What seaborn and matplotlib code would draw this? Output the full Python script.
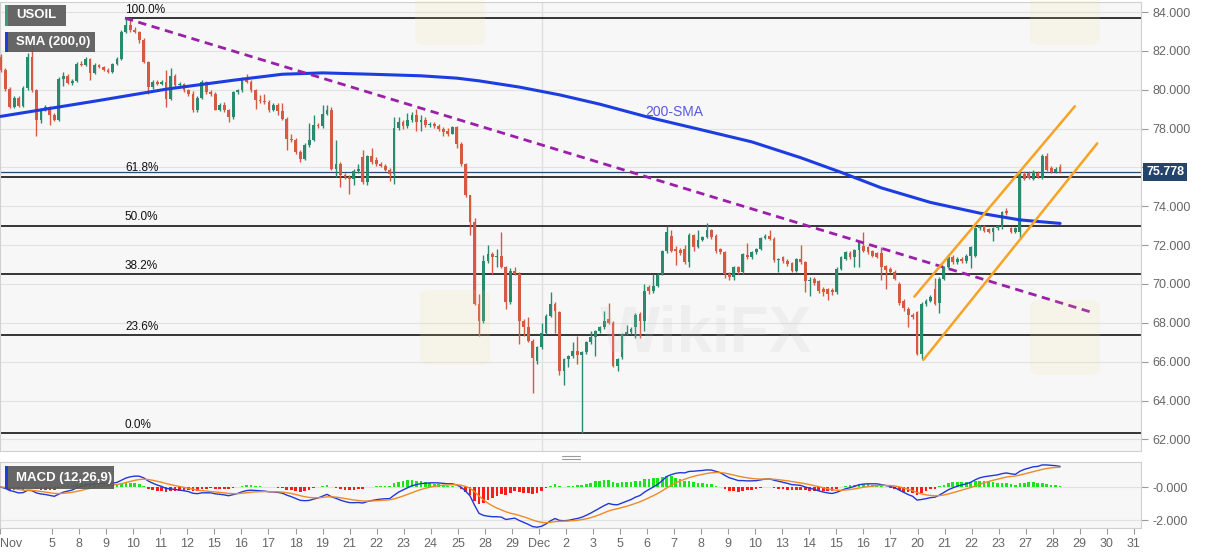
import numpy as np
import pandas as pd
import matplotlib
matplotlib.use("Agg")
import matplotlib.pyplot as plt
import matplotlib.transforms as mtransforms
from matplotlib.patches import Rectangle, FancyBboxPatch
from matplotlib.lines import Line2D
import seaborn as sns

# USOIL 4H candles, 1 Nov - 28 Dec
opens = [
    81.70, 81.00, 80.06, 79.12, 79.60, 79.15, 80.11, 81.70, 79.98, 78.43,
    78.98, 79.10, 78.70, 78.45, 80.58, 80.70, 80.35, 80.45, 81.35, 81.30,
    81.60, 80.84, 81.27, 81.18, 81.00, 80.92, 81.35, 81.61, 82.99, 83.33,
    83.07, 82.95, 82.56, 81.44, 80.15, 80.41, 80.32, 80.41, 79.55, 80.70,
    80.23, 80.30, 79.98, 79.80, 78.94, 79.60, 80.41, 79.90, 79.80, 78.98,
    79.20, 78.94, 78.60, 79.89, 79.98, 80.58, 80.41, 79.98, 79.46, 79.40,
    79.35, 78.94, 79.20, 78.90, 78.50, 77.48, 77.40, 76.80, 76.45, 77.14,
    77.40, 78.17, 78.12, 78.77, 78.94, 75.93, 76.19, 75.59, 75.50, 75.42,
    75.81, 76.54, 75.25, 76.57, 76.40, 76.20, 76.10, 75.88, 75.64, 78.05,
    78.34, 78.12, 78.43, 78.69, 78.34, 78.45, 78.17, 78.25, 78.12, 78.00,
    77.90, 77.74, 78.08, 77.22, 76.19, 74.56, 73.18, 68.97, 68.10, 71.20,
    71.55, 71.38, 71.45, 70.86, 69.05, 70.69, 70.52, 68.10, 67.76, 67.08,
    66.04, 66.74, 67.50, 68.37, 68.97, 68.54, 65.53, 66.13, 66.30, 66.56,
    66.35, 66.48, 66.99, 67.25, 67.59, 67.76, 68.20, 68.00, 65.79, 66.22,
    67.45, 67.52, 67.76, 68.45, 68.10, 69.83, 69.66, 69.91, 70.52, 71.70,
    72.49, 71.80, 71.75, 71.80, 71.11, 72.50, 71.90, 72.27, 72.40, 72.78,
    72.49, 71.80, 71.63, 70.51, 70.37, 70.86, 70.60, 71.51, 71.37, 71.63,
    71.80, 72.37, 72.49, 72.32, 71.23, 71.37, 71.20, 71.06, 70.68, 71.28,
    71.11, 70.17, 70.25, 70.13, 69.74, 69.74, 69.70, 69.57, 70.77, 71.30,
    71.58, 71.37, 71.75, 71.97, 71.89, 71.68, 71.58, 71.58, 70.94, 70.77,
    70.60, 70.00, 69.10, 68.70, 68.40, 68.54, 66.40, 68.97, 69.14, 69.74,
    69.00, 70.26, 70.86, 71.37, 71.12, 71.30, 71.17, 71.45, 71.46, 72.89,
    72.96, 72.85, 72.67, 72.89, 72.92, 73.78, 72.89, 72.67, 72.67, 75.67,
    75.70, 75.42, 75.70, 75.47, 76.57, 75.98, 75.76, 76.00,
]
highs = [
    81.85, 81.10, 80.15, 79.70, 79.70, 80.20, 81.90, 82.30, 80.05, 79.05,
    79.20, 79.15, 78.80, 80.65, 80.90, 80.80, 80.55, 81.45, 81.50, 81.70,
    81.65, 81.40, 81.35, 81.25, 81.10, 81.40, 81.70, 83.10, 83.65, 83.69,
    83.25, 83.05, 82.65, 81.50, 80.50, 80.50, 80.50, 81.00, 81.10, 80.80,
    80.40, 80.35, 80.05, 79.95, 79.70, 80.50, 80.45, 80.00, 79.90, 79.30,
    79.35, 79.00, 79.95, 80.05, 80.65, 80.80, 80.50, 80.05, 79.75, 79.80,
    79.45, 79.30, 79.30, 79.30, 78.60, 77.70, 77.50, 76.90, 77.25, 78.30,
    78.70, 78.30, 79.20, 79.20, 79.10, 77.40, 76.30, 75.70, 75.60, 75.90,
    76.20, 76.88, 76.65, 77.00, 76.55, 76.30, 76.20, 75.95, 78.60, 78.60,
    78.45, 78.80, 78.85, 79.00, 78.70, 78.60, 78.35, 78.35, 78.25, 78.10,
    78.05, 78.15, 78.12, 77.30, 76.25, 74.60, 73.40, 69.50, 71.50, 72.00,
    71.65, 71.80, 72.70, 70.95, 70.80, 70.90, 70.60, 68.20, 68.30, 67.15,
    66.80, 68.00, 68.45, 69.60, 69.05, 68.60, 66.20, 66.35, 67.00, 67.30,
    66.55, 67.05, 67.60, 67.65, 67.85, 68.60, 69.00, 68.10, 66.20, 67.50,
    67.90, 67.80, 68.50, 68.55, 70.00, 69.95, 70.50, 70.55, 71.75, 73.00,
    72.80, 71.95, 71.85, 72.00, 72.60, 72.55, 72.80, 72.45, 73.15, 72.85,
    72.55, 71.85, 71.70, 70.60, 70.95, 70.95, 71.60, 72.10, 71.70, 71.85,
    72.42, 72.55, 72.80, 72.40, 71.35, 71.45, 71.30, 71.15, 71.35, 72.00,
    71.20, 70.35, 70.35, 70.20, 69.85, 69.80, 69.80, 70.85, 71.45, 71.70,
    71.70, 71.80, 72.20, 72.70, 71.95, 71.75, 71.65, 71.90, 71.00, 70.85,
    70.70, 70.10, 69.25, 68.80, 68.50, 68.60, 69.05, 69.25, 69.45, 70.30,
    70.35, 70.95, 71.50, 71.50, 71.40, 71.40, 71.55, 71.95, 72.95, 73.05,
    73.05, 72.90, 72.95, 73.05, 73.75, 73.90, 72.95, 72.95, 75.75, 75.80,
    75.80, 75.85, 75.80, 76.70, 76.75, 76.05, 76.00, 76.20,
]
lows = [
    80.90, 79.95, 79.05, 79.05, 79.10, 79.10, 80.00, 79.90, 77.60, 78.30,
    78.90, 78.20, 78.40, 78.40, 80.20, 80.30, 80.25, 80.40, 81.20, 81.25,
    80.50, 80.80, 81.10, 80.95, 80.85, 80.88, 81.30, 81.55, 82.90, 83.00,
    82.90, 82.40, 81.40, 79.80, 80.05, 80.25, 80.25, 79.12, 79.45, 80.15,
    80.10, 79.90, 79.70, 78.85, 78.85, 79.50, 79.80, 79.70, 78.95, 78.90,
    78.85, 78.35, 78.50, 79.80, 79.90, 80.35, 79.90, 79.00, 79.30, 79.25,
    78.85, 78.90, 78.70, 78.45, 76.90, 77.30, 76.70, 76.30, 76.40, 77.05,
    77.35, 78.05, 78.05, 78.70, 75.85, 75.50, 75.00, 75.40, 74.65, 75.10,
    75.70, 75.15, 75.10, 76.20, 76.10, 76.00, 75.80, 75.30, 75.16, 77.95,
    78.00, 78.05, 78.35, 77.90, 77.90, 78.10, 78.10, 78.05, 77.90, 77.60,
    77.60, 77.70, 77.00, 76.10, 74.50, 72.50, 68.90, 67.30, 68.00, 71.10,
    70.50, 70.90, 70.80, 68.70, 68.95, 70.45, 66.90, 67.30, 67.00, 64.40,
    65.90, 66.65, 67.40, 68.30, 67.50, 65.30, 64.80, 65.70, 66.20, 65.90,
    62.33, 66.40, 66.90, 66.30, 67.50, 67.70, 67.95, 65.75, 65.50, 66.15,
    67.35, 67.45, 67.20, 67.20, 67.60, 69.50, 69.55, 69.85, 70.45, 71.60,
    71.65, 71.00, 71.50, 71.05, 70.85, 71.70, 71.85, 72.20, 72.35, 72.30,
    71.60, 71.55, 70.30, 70.20, 70.20, 70.50, 70.50, 71.30, 71.30, 71.55,
    71.75, 72.30, 72.25, 71.15, 70.60, 71.10, 70.95, 70.60, 70.60, 71.05,
    69.60, 69.40, 69.95, 69.55, 69.40, 69.20, 69.45, 69.50, 70.70, 71.25,
    71.30, 70.90, 70.90, 71.65, 71.55, 71.40, 71.35, 70.20, 69.74, 70.55,
    70.20, 68.90, 68.60, 67.80, 68.20, 66.35, 66.12, 68.85, 69.05, 68.90,
    68.50, 70.20, 70.80, 71.05, 71.05, 71.10, 71.10, 70.80, 71.40, 72.80,
    72.70, 72.60, 72.20, 72.80, 72.85, 73.55, 72.60, 72.60, 72.30, 75.35,
    75.40, 75.35, 75.45, 75.40, 75.80, 75.70, 75.70, 75.70,
]
closes = [
    81.00, 80.06, 79.12, 79.60, 79.15, 80.11, 81.70, 79.98, 78.43, 78.98,
    79.10, 78.70, 78.45, 80.58, 80.70, 80.35, 80.45, 81.35, 81.30, 81.60,
    80.84, 81.27, 81.18, 81.00, 80.92, 81.35, 81.61, 82.99, 83.33, 83.07,
    82.95, 82.56, 81.44, 80.15, 80.41, 80.32, 80.41, 79.55, 80.70, 80.23,
    80.30, 79.98, 79.80, 78.94, 79.60, 80.41, 79.90, 79.80, 78.98, 79.20,
    78.94, 78.60, 79.89, 79.98, 80.58, 80.41, 79.98, 79.46, 79.40, 79.35,
    78.94, 79.20, 78.90, 78.50, 77.48, 77.40, 76.80, 76.45, 77.14, 77.40,
    78.17, 78.12, 78.77, 78.94, 75.93, 76.19, 75.59, 75.50, 75.42, 75.81,
    75.90, 75.25, 76.57, 76.28, 76.20, 76.10, 75.88, 75.64, 78.05, 78.34,
    78.12, 78.43, 78.69, 78.34, 78.45, 78.17, 78.25, 78.12, 78.00, 77.83,
    77.74, 78.08, 77.22, 76.19, 74.56, 73.18, 68.97, 68.10, 71.20, 71.55,
    71.38, 71.45, 70.86, 69.05, 70.69, 70.52, 68.10, 67.76, 67.08, 66.20,
    66.74, 67.50, 68.37, 68.97, 68.62, 65.53, 66.13, 66.30, 66.56, 66.35,
    66.48, 66.99, 67.25, 67.59, 67.76, 68.10, 68.00, 65.79, 66.13, 67.45,
    67.52, 67.70, 68.42, 68.10, 69.62, 69.62, 69.91, 70.48, 71.70, 72.66,
    71.72, 71.72, 71.58, 71.11, 72.50, 71.90, 72.27, 72.40, 72.78, 72.44,
    71.68, 71.63, 70.51, 70.37, 70.86, 70.60, 71.54, 71.37, 71.63, 71.80,
    72.37, 72.49, 72.32, 71.23, 71.30, 71.17, 71.03, 70.68, 71.28, 71.11,
    70.17, 70.22, 70.03, 69.65, 69.57, 69.51, 69.57, 70.77, 71.37, 71.63,
    71.37, 71.75, 72.15, 71.72, 71.63, 71.46, 71.41, 70.90, 70.70, 70.60,
    70.26, 69.00, 68.75, 68.40, 68.30, 66.40, 68.97, 69.14, 69.34, 68.97,
    70.26, 70.86, 71.37, 71.12, 71.30, 71.17, 71.45, 71.89, 72.89, 72.96,
    72.75, 72.67, 72.89, 73.00, 73.69, 73.64, 72.67, 72.89, 75.67, 75.42,
    75.45, 75.76, 75.50, 76.57, 75.85, 75.76, 75.93, 75.78,
]

# 200-SMA read at a few candles
sma_idx = [0, 22, 37, 52, 63, 72, 83, 94, 102, 107, 116, 125, 134, 145,
           156, 168, 179, 188, 197, 208, 219, 228, 237]
sma_val = [78.63, 79.45, 80.03, 80.49, 80.80, 80.87, 80.80, 80.72, 80.60,
           80.46, 80.14, 79.74, 79.26, 78.58, 77.98, 77.32, 76.50, 75.75,
           74.95, 74.20, 73.65, 73.30, 73.12]

# drawn tools
fib_high = 83.69
fib_low = 62.33
fib_ratios = [1.0, 0.618, 0.5, 0.382, 0.236, 0.0]
fib_labels = ["100.0%", "61.8%", "50.0%", "38.2%", "23.6%", "0.0%"]
fib_start = 27.8
trend_x = [27.8, 244.4]
trend_y = [83.69, 68.52]
chan_up_x = [204.4, 240.3]
chan_up_y = [69.35, 79.15]
chan_lo_x = [206.4, 245.3]
chan_lo_y = [66.09, 77.24]
last_price = 75.778
dec_line = 121

day_labels = ["Nov", "5", "8", "9", "10", "11", "12", "15", "16", "17", "18",
              "19", "21", "22", "23", "24", "25", "28", "29", "Dec", "2", "3",
              "5", "6", "7", "8", "9", "10", "13", "14", "15", "16", "17",
              "20", "21", "22", "23", "27", "28", "29", "30", "31"]
price_ticks = [62, 64, 66, 68, 70, 72, 74, 76, 78, 80, 82, 84]

GREEN = "#2a8a6e"
RED = "#d65a42"
W, H = 1207, 555

df = pd.DataFrame({"open": opens, "high": highs, "low": lows, "close": closes})
df["i"] = np.arange(len(df))
up = df["close"] >= df["open"]
ema_fast = df["close"].ewm(span=12, adjust=False).mean()
ema_slow = df["close"].ewm(span=26, adjust=False).mean()
df["macd"] = ema_fast - ema_slow
df["signal"] = df["macd"].ewm(span=9, adjust=False).mean()
df["hist"] = df["macd"] - df["signal"]

sns.set_theme(style="white")
plt.rcParams["font.family"] = ["Liberation Sans", "DejaVu Sans"]

fig = plt.figure(figsize=(W / 100, H / 100), dpi=100)
fig.patch.set_facecolor("white")
ax = fig.add_axes([0, 1 - 451 / H, 1141 / W, 449 / H])
axm = fig.add_axes([0, 1 - 528 / H, 1141 / W, 66 / H], sharex=ax)

for a in (ax, axm):
    a.set_facecolor("#f7f7f7")
    for s in a.spines.values():
        s.set_color("#d0d0d0")
        s.set_linewidth(0.8)
    a.grid(axis="y", color="#e2e2e2", lw=0.8)
    a.axvline(dec_line, color="#dedede", lw=1, zorder=0)

# faint watermark
fig.text(600 / W, 1 - 335 / H, "WikiFX", fontsize=46, fontweight="bold",
         color="#c4c4c4", alpha=0.16, va="center", ha="left", zorder=0.5)
for (x0, y0) in [(420, 290), (1030, 300), (415, -30), (1030, -30)]:
    fig.patches.append(FancyBboxPatch((x0 / W, 1 - (y0 + 75) / H), 70 / W, 75 / H,
                                      boxstyle="round,pad=0,rounding_size=0.01",
                                      transform=fig.transFigure, fc="#f2d98a",
                                      ec="none", alpha=0.12, zorder=0.5))

# candles
ax.vlines(df["i"], df["low"], df["high"], colors=np.where(up, GREEN, RED), lw=1, zorder=3)
body_lo = np.minimum(df["open"], df["close"])
body_h = np.maximum((df["close"] - df["open"]).abs(), 0.05)
ax.bar(df["i"], body_h, bottom=body_lo, width=0.62,
       color=np.where(up, GREEN, RED), linewidth=0, zorder=4)

# fibonacci levels
for r, lab in zip(fib_ratios, fib_labels):
    lev = fib_low + r * (fib_high - fib_low)
    x0 = fib_start if r == 1.0 else -0.2
    ax.hlines(lev, x0, 260, color="black", lw=1.1, zorder=2)
    ax.annotate(lab, (fib_start, lev), xytext=(0, 1.5), textcoords="offset points",
                fontsize=8.5, color="#111111", va="bottom", ha="left", zorder=6)

ax.axhline(last_price, color="#2c4a70", lw=0.9, zorder=2)

# 200-SMA, trend line and channel
sns.lineplot(x=sma_idx, y=sma_val, ax=ax, color="#1c3de0", lw=2.2, zorder=5)
ax.text(150.6, 78.85, "200-SMA", color="#5a5ae0", fontsize=10, ha="center",
        va="center", zorder=6)
ax.plot(trend_x, trend_y, color="#9b1fa8", lw=2, dashes=(3, 2), zorder=5)
ax.plot(chan_up_x, chan_up_y, color="#f7a325", lw=1.8, zorder=5)
ax.plot(chan_lo_x, chan_lo_y, color="#f7a325", lw=1.8, zorder=5)

ax.set_xlim(-0.16, 255.1)
ax.set_ylim(61.4, 84.52)
ax.yaxis.tick_right()
ax.set_yticks(price_ticks)
# the 76.000 label sits under the last-price tag
ax.set_yticklabels(["" if v == 76 else f"{v:.3f}" for v in price_ticks])
ax.tick_params(axis="y", colors="#9a9a9a", labelcolor="#666666", labelsize=9,
               length=5, width=0.8, pad=3, right=True)
ax.tick_params(axis="x", bottom=False, labelbottom=False)
ax.set_xlabel("")
ax.set_ylabel("")

blend = mtransforms.blended_transform_factory(ax.transAxes, ax.transData)
ax.text(1.0045, last_price, "75.778", transform=blend, color="white",
        fontsize=9, fontweight="bold", va="center", ha="left", clip_on=False,
        zorder=10, bbox=dict(boxstyle="square,pad=0.22", fc="#25446c", ec="none"))

# MACD panel
axm.bar(df["i"], df["hist"], width=0.6,
        color=np.where(df["hist"] >= 0, "#19e619", "#ff1a1a"), linewidth=0, zorder=2)
sns.lineplot(x=df["i"], y=df["macd"], ax=axm, color="#2238d8", lw=1, zorder=3)
sns.lineplot(x=df["i"], y=df["signal"], ax=axm, color="#f08a24", lw=1, zorder=3)
axm.set_ylim(-2.48, 1.52)
axm.yaxis.tick_right()
axm.set_yticks([0, -2])
axm.set_yticklabels(["-0.000", "-2.000"])
axm.tick_params(axis="y", colors="#9a9a9a", labelcolor="#666666", labelsize=9,
                length=5, width=0.8, pad=3, right=True)
tick_pos = 5.45 + 6.05 * np.arange(len(day_labels))
tick_pos[0] = -0.1
axm.set_xticks(tick_pos)
axm.set_xticklabels(day_labels)
axm.tick_params(axis="x", colors="#9a9a9a", labelcolor="#666666", labelsize=9,
                length=4, width=0.8, pad=3, bottom=True)
axm.get_xticklabels()[0].set_ha("left")
axm.set_xlabel("")
axm.set_ylabel("")
axm.set_xlim(-0.16, 255.1)

# panel separator grip
for yy in (455.5, 458.5):
    fig.add_artist(Line2D([562 / W, 580 / W], [1 - yy / H] * 2, color="#9a9a9a", lw=0.8))


def legend_box(x0, y0, x1, y1, stripe, text):
    fig.patches.append(Rectangle((x0 / W, 1 - y1 / H), (x1 - x0) / W, (y1 - y0) / H,
                                 transform=fig.transFigure, fc="#5a5a5a", ec="none",
                                 alpha=0.92, zorder=20))
    fig.patches.append(Rectangle((x0 / W, 1 - y1 / H), 2.5 / W, (y1 - y0) / H,
                                 transform=fig.transFigure, fc=stripe, ec="none", zorder=21))
    fig.text(16 / W, 1 - ((y0 + y1) / 2) / H, text, color="white", fontsize=9.5,
             fontweight="bold", va="center", ha="left", zorder=22)


legend_box(5, 5, 66, 26, "#3a9b7a", "USOIL")
legend_box(5, 32, 95, 52, "#1f3fd0", "SMA (200,0)")
legend_box(5, 466, 114, 489, "#1f3fd0", "MACD (12,26,9)")

fig.savefig("out.png", dpi=100)
